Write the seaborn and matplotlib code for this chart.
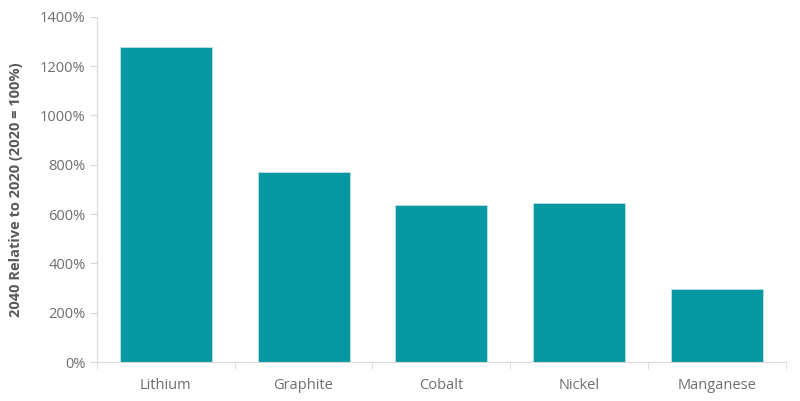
import matplotlib
matplotlib.use("Agg")
import matplotlib.pyplot as plt
from matplotlib.ticker import FuncFormatter, FixedLocator
import seaborn as sns
import pandas as pd

minerals = ["Lithium", "Graphite", "Cobalt", "Nickel", "Manganese"]
relative_2040 = [1278, 772, 638, 647, 298]

sns.set_style("white")
plt.rcParams["font.family"] = ["Open Sans", "DejaVu Sans"]

df = pd.DataFrame({"mineral": minerals, "value": relative_2040})

fig = plt.figure(figsize=(8, 4.01), dpi=100)
ax = fig.add_axes([0.121, 0.097, 0.8615, 0.861])

sns.barplot(data=df, x="mineral", y="value", color="#0598a3", saturation=1,
            width=0.667, edgecolor="#bfe3e6", linewidth=0.6, ax=ax)

ax.set_ylim(0, 1400)
ax.set_xlim(-0.5, len(minerals) - 0.5)
ax.set_yticks(range(0, 1401, 200))
ax.yaxis.set_major_formatter(FuncFormatter(lambda v, p: f"{int(v)}%"))

grey = "#d9d9d9"
text_grey = "#6e6e6e"
for side in ["top", "right"]:
    ax.spines[side].set_visible(False)
ax.spines["left"].set_color(grey)
ax.spines["bottom"].set_color(grey)

ax.tick_params(axis="y", which="major", left=True, length=5, color=grey,
               labelsize=10.5, labelcolor=text_grey, pad=3)
ax.tick_params(axis="x", which="major", bottom=False, labelsize=10.5,
               labelcolor=text_grey, pad=8)
ax.xaxis.set_minor_locator(FixedLocator([i - 0.5 for i in range(len(minerals) + 1)]))
ax.tick_params(axis="x", which="minor", bottom=True, length=5, color=grey)

ax.set_xlabel("")
ax.set_ylabel("2040 Relative to 2020 (2020 = 100%)", fontsize=10.5,
              fontweight="bold", color="#595959", labelpad=12)

fig.savefig("out.png", dpi=100)
